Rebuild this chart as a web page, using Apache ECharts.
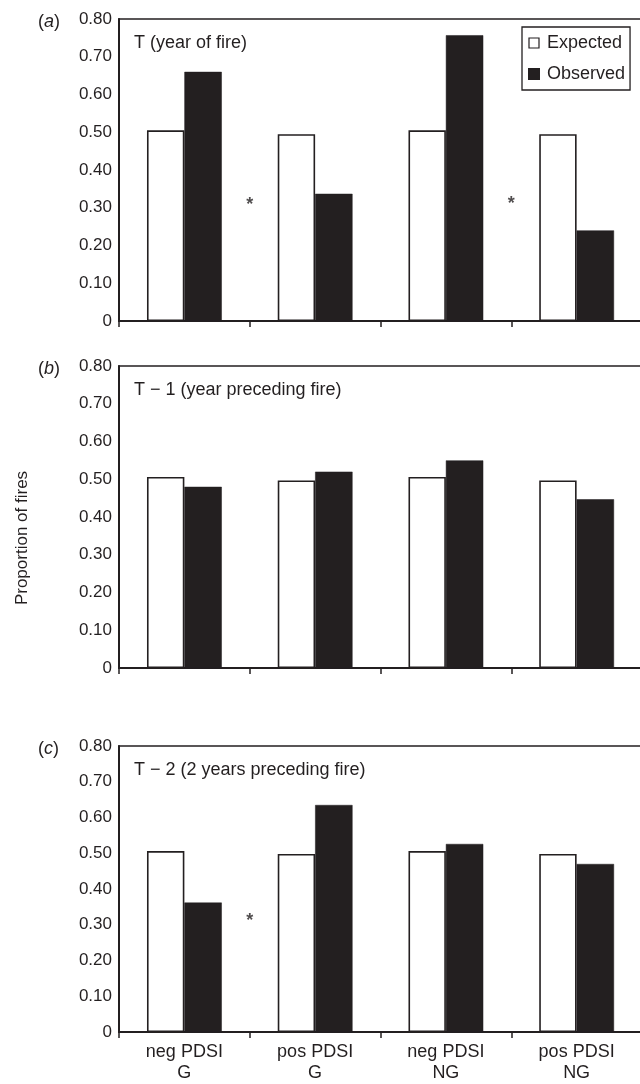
<!DOCTYPE html>
<html>
<head>
<meta charset="utf-8">
<script src="https://cdn.jsdelivr.net/npm/echarts@6/dist/echarts.min.js"></script>
<style>
html,body{margin:0;padding:0;background:#fff;overflow:hidden;width:640px;height:1084px;}
#chart{width:660px;height:1084px;}
</style>
</head>
<body>
<div id="chart"></div>
<script>
const categories = ['neg PDSI\nG', 'pos PDSI\nG', 'neg PDSI\nNG', 'pos PDSI\nNG'];
const panelLetters = ['a', 'b', 'c'];
const panelTitles = ['T (year of fire)', 'T \u2212 1 (year preceding fire)', 'T \u2212 2 (2 years preceding fire)'];
const expectedA = [0.505, 0.495, 0.505, 0.495];
const observedA = [0.66, 0.337, 0.757, 0.24];
const expectedB = [0.506, 0.497, 0.506, 0.497];
const observedB = [0.48, 0.52, 0.55, 0.447];
const expectedC = [0.506, 0.498, 0.506, 0.498];
const observedC = [0.362, 0.635, 0.526, 0.47];
// asterisks: [category-boundary position, height]
const asterisksA = [[1, 0.315], [3, 0.317]];
const asterisksB = [];
const asterisksC = [[1, 0.318]];
const yTicks = [0, 0.1, 0.2, 0.3, 0.4, 0.5, 0.6, 0.7, 0.8];
const yTickLabels = ['0', '0.10', '0.20', '0.30', '0.40', '0.50', '0.60', '0.70', '0.80'];

const INK = '#231f20';
const FONT = 'Liberation Sans';
const panels = [
  {exp: expectedA, obs: observedA, ast: asterisksA},
  {exp: expectedB, obs: observedB, ast: asterisksB},
  {exp: expectedC, obs: observedC, ast: asterisksC}
];
const tops = [19, 366, 746];
const H = 302;

const grid = [], xAxis = [], yAxis = [], series = [], title = [];
panels.forEach((p, i) => {
  grid.push({left: 119, width: 523, top: tops[i], height: H, show: true, borderColor: INK, borderWidth: 1.5, backgroundColor: 'transparent'});
  xAxis.push({
    type: 'category', gridIndex: i, data: categories,
    axisLine: {lineStyle: {color: INK, width: 2}},
    axisTick: {show: true, length: 6, lineStyle: {color: INK, width: 1.5}},
    axisLabel: {show: i === 2, color: INK, fontFamily: FONT, fontSize: 18, lineHeight: 21, margin: 10},
    splitLine: {show: false}
  });
  yAxis.push({
    type: 'value', gridIndex: i, min: 0, max: 0.8, interval: 0.1,
    axisLine: {show: true, lineStyle: {color: INK, width: 2}},
    axisTick: {show: false},
    splitLine: {show: false},
    axisLabel: {color: INK, fontFamily: FONT, fontSize: 17, margin: 7,
      formatter: v => yTickLabels[yTicks.findIndex(t => Math.abs(t - v) < 1e-6)]}
  });
  title.push({
    text: '{p|(}{i|' + panelLetters[i] + '}{p|)}',
    left: 33, top: tops[i] - 11,
    textStyle: {fontWeight: 'normal', rich: {
      p: {fontFamily: FONT, fontSize: 18, fontWeight: 'normal', color: INK},
      i: {fontFamily: FONT, fontSize: 18, fontWeight: 'normal', fontStyle: 'italic', color: INK}
    }}
  });
  title.push({
    text: panelTitles[i], left: 129, top: tops[i] + 10,
    textStyle: {fontFamily: FONT, fontSize: 18, fontWeight: 'normal', color: INK}
  });
  series.push({
    name: 'Expected', type: 'bar', xAxisIndex: i, yAxisIndex: i, data: p.exp,
    barWidth: '28.6%', barGap: '0%',
    itemStyle: {color: '#ffffff', borderColor: INK, borderWidth: 1.6},
    emphasis: {disabled: true}
  });
  series.push({
    name: 'Observed', type: 'bar', xAxisIndex: i, yAxisIndex: i, data: p.obs,
    barWidth: '28.6%', barGap: '0%',
    itemStyle: {color: INK, borderColor: INK, borderWidth: 0.5},
    emphasis: {disabled: true}
  });
});
// hidden value axes to place the asterisks between categories
panels.forEach((p, i) => {
  xAxis.push({type: 'value', gridIndex: i, min: 0, max: 4, show: false});
  series.push({
    type: 'scatter', xAxisIndex: 3 + i, yAxisIndex: i, data: p.ast,
    symbolSize: 1, itemStyle: {color: 'rgba(0,0,0,0)'},
    label: {show: true, position: 'inside', formatter: '*', color: INK, fontFamily: FONT, fontSize: 18, fontWeight: 'bold', offset: [0, 3]},
    silent: true
  });
});

const chart = echarts.init(document.getElementById('chart'), null, {renderer: 'canvas', width: 660, height: 1084});
chart.setOption({
  animation: false,
  backgroundColor: '#ffffff',
  title: title,
  graphic: [{
    type: 'text', x: 22, y: 538, rotation: Math.PI / 2,
    style: {text: 'Proportion of fires', fill: INK, font: '17px "Liberation Sans"', align: 'center', verticalAlign: 'middle'}
  }],
  legend: {
    data: [
      {name: 'Expected', icon: 'rect', itemStyle: {color: '#fff', borderColor: INK, borderWidth: 1.2}},
      {name: 'Observed', icon: 'rect', itemStyle: {color: INK}}
    ],
    orient: 'vertical', left: 522, top: 27,
    itemWidth: 10, itemHeight: 10, itemGap: 13,
    padding: [7, 5, 7, 6],
    borderColor: INK, borderWidth: 1.3, backgroundColor: '#fff',
    textStyle: {fontFamily: FONT, fontSize: 18, color: INK, padding: [0, 0, 0, 3]},
    selectedMode: false
  },
  grid: grid, xAxis: xAxis, yAxis: yAxis, series: series
});
</script>
</body>
</html>
